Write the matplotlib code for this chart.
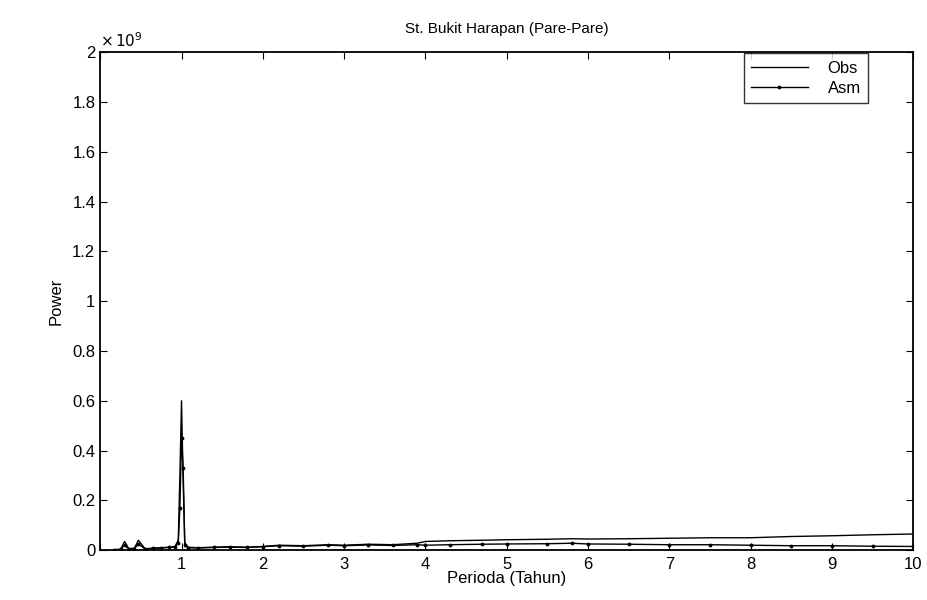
import numpy as np
import matplotlib
matplotlib.use('Agg')
import matplotlib.pyplot as plt

plt.rcParams['font.family'] = ['Liberation Sans', 'DejaVu Sans']

# Periodogram values (power in units of 1e9)
period = [0.17, 0.25, 0.30, 0.35, 0.42, 0.47, 0.55, 0.65, 0.75, 0.85, 0.92,
          0.96, 0.98, 1.00, 1.02, 1.04, 1.08, 1.2, 1.4, 1.6, 1.8, 2.0, 2.2,
          2.5, 2.8, 3.0, 3.3, 3.6, 3.9, 4.0, 4.3, 4.7, 5.0, 5.5, 5.8, 6.0,
          6.5, 7.0, 7.5, 8.0, 8.5, 9.0, 9.5, 10.0]
obs = [0.002, 0.004, 0.035, 0.006, 0.008, 0.040, 0.006, 0.008, 0.010, 0.012, 0.015,
       0.040, 0.300, 0.600, 0.280, 0.030, 0.012, 0.010, 0.012, 0.014, 0.012, 0.015, 0.020,
       0.018, 0.022, 0.020, 0.024, 0.022, 0.028, 0.035, 0.038, 0.040, 0.042, 0.044, 0.046, 0.045,
       0.046, 0.048, 0.050, 0.050, 0.055, 0.058, 0.062, 0.065]
asm = [0.002, 0.003, 0.020, 0.005, 0.006, 0.025, 0.005, 0.007, 0.009, 0.011, 0.013,
       0.030, 0.170, 0.450, 0.330, 0.020, 0.010, 0.009, 0.011, 0.012, 0.011, 0.014, 0.018,
       0.016, 0.020, 0.018, 0.021, 0.019, 0.022, 0.020, 0.022, 0.024, 0.025, 0.026, 0.028, 0.025,
       0.024, 0.022, 0.022, 0.020, 0.018, 0.018, 0.016, 0.015]
xticklabels = ['', '1', '2', '3', '4', '5', '6', '7', '8', '9', '10']
yticklabels = ['0', '0.2', '0.4', '0.6', '0.8', '1', '1.2', '1.4', '1.6', '1.8', '2']

fig = plt.figure(figsize=(9.28, 6.0), dpi=100)
ax = fig.add_axes([0.108, 0.083, 0.876, 0.83])

ax.plot(period, np.array(obs) * 1e9, color='black', linewidth=1.0, label='Obs')
ax.plot(period, np.array(asm) * 1e9, color='black', linewidth=1.0,
        marker='.', markersize=3.5, label='Asm')

ax.set_xlim(0, 10)
ax.set_ylim(0, 2e9)
ax.set_xticks(range(0, 11))
ax.set_xticklabels(xticklabels)
ax.set_yticks(np.arange(0, 2.01e9, 0.2e9))
ax.set_yticklabels(yticklabels)
ax.text(0.0, 1.005, r'$\times\,10^9$', transform=ax.transAxes, fontsize=11,
        ha='left', va='bottom')

ax.tick_params(direction='in', top=True, right=True, labelsize=12, length=5)
ax.tick_params(axis='x', pad=5)
for s in ax.spines.values():
    s.set_linewidth(1.3)

ax.set_title('St. Bukit Harapan (Pare-Pare)', fontsize=11, pad=14)
ax.set_xlabel('Perioda (Tahun)', fontsize=12, labelpad=-1)
ax.set_ylabel('Power', fontsize=12, labelpad=6)

leg = ax.legend(loc='upper right', bbox_to_anchor=(0.945, 0.998), fontsize=12,
                frameon=True, fancybox=False, edgecolor='black',
                borderaxespad=0.0, handlelength=3.4, borderpad=0.45,
                labelspacing=0.3, handletextpad=1.2)
leg.get_frame().set_linewidth(1.0)

fig.savefig('out.png', dpi=100)
